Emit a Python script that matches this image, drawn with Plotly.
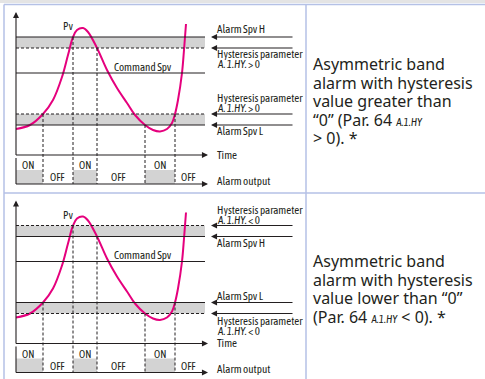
import numpy as np
import plotly.graph_objects as go

# Pv curve (panel coordinates, px)
pv_x = [16, 30, 43, 53, 62, 68, 73, 77, 83, 88, 97, 107, 117, 127, 135, 145, 153, 160, 167, 172, 175, 178, 182, 184, 186]
pv_y = [129, 125, 114, 100, 77, 55, 37, 30, 28, 32, 48, 70, 88, 103, 115, 125, 130, 131.5, 129, 123, 114, 100, 73, 50, 24]

# threshold levels (panel coordinates)
level_upper = [37, 48]      # outer / inner edge of the upper band
level_lower = [114, 125]    # inner / outer edge of the lower band
level_cmd = 73

# switching instants and the level each dashed guide starts from
switch_x = [43, 73, 97, 145, 175]
switch_from = [114, 37, 48, 125, 114]

# alarm output ON intervals
on_start = [16, 73, 145]
on_end = [43, 97, 175]
on_label_x = [28, 85, 160]
off_label_x = [57, 118, 188]

# right hand labels of each diagram: (text, y)
labels_pos = [
    ("Alarm Spv H", 29), ("Hysteresis parameter", 54), ("<i>A. 1.HY.</i> > 0", 64),
    ("Hysteresis parameter", 98), ("<i>A. 1.HY.</i> > 0", 108), ("Alarm Spv L", 131),
    ("Time", 155), ("Alarm output", 181),
]
labels_neg = [
    ("Hysteresis parameter", 21.5), ("<i>A. 1.HY.</i> < 0", 31.5), ("Alarm Spv H", 54.8),
    ("Alarm Spv L", 107.5), ("Hysteresis parameter", 132), ("<i>A. 1.HY.</i> < 0", 142.5),
    ("Time", 154), ("Alarm output", 180),
]

seg = '<span style="font-family:Asap Condensed;font-size:11px"><i>A.1.HY</i></span>'
desc_pos = ["Asymmetric band", "alarm with hysteresis", "value greater than",
            "“0” (Par. 64 " + seg, "> 0). *"]
desc_neg = ["Asymmetric band", "alarm with hysteresis", "value lower than “0”",
            "(Par. 64 " + seg + " < 0). *"]

panels = [
    dict(oy=0, solid=[level_upper[0], level_lower[1]], dashed=[level_upper[1], level_lower[0]],
         labels=labels_pos, desc=desc_pos, desc_y=64),
    dict(oy=188.5, solid=[level_upper[1], level_lower[0]], dashed=[level_upper[0], level_lower[1]],
         labels=labels_neg, desc=desc_neg, desc_y=261 - 188.5),
]

INK = '#231f20'
PINK = '#e5007d'
BAND = '#d3d3d3'
BORDER = '#b5c1e6'
FONT_N = 'Asap Condensed, Archivo Narrow, DejaVu Sans Condensed, sans-serif'

axis_x, axis_end, line_end = 16, 208, 205
time_y, out_y, y_top = 155, 184, 12
on_top = 170

fig = go.Figure()
shapes = []
annotations = []


def hline(y, x0, x1, dash=None, width=1.1):
    shapes.append(dict(type='line', xref='x', yref='y', x0=x0, x1=x1, y0=y, y1=y,
                       line=dict(color=INK, width=width, dash=dash)))


def vline(x, y0, y1, dash=None, width=1.1):
    shapes.append(dict(type='line', xref='x', yref='y', x0=x, x1=x, y0=y0, y1=y1,
                       line=dict(color=INK, width=width, dash=dash)))


def arrow(x, y, ax, ay):
    annotations.append(dict(x=x, y=y, ax=ax, ay=ay, xref='x', yref='y', axref='x', ayref='y',
                            text='', showarrow=True, arrowhead=2, arrowsize=1.1,
                            arrowwidth=1.1, arrowcolor=INK))


def label(x, y, text, size=11, anchor='left', family=FONT_N):
    annotations.append(dict(x=x, y=y, xref='x', yref='y', text=text, showarrow=False,
                            xanchor=anchor, yanchor='middle', borderpad=0,
                            font=dict(family=family, size=size, color=INK)))


for p in panels:
    oy = p['oy']
    # gray hysteresis bands
    for lv in (level_upper, level_lower):
        shapes.append(dict(type='rect', xref='x', yref='y', x0=axis_x, x1=line_end,
                           y0=lv[0] + oy, y1=lv[1] + oy, fillcolor=BAND, line_width=0, layer='below'))
    # ON boxes
    for s, e in zip(on_start, on_end):
        shapes.append(dict(type='rect', xref='x', yref='y', x0=s, x1=e,
                           y0=on_top + oy, y1=out_y + oy, fillcolor=BAND, line_width=0, layer='below'))
    for lv in p['solid']:
        hline(lv + oy, axis_x, line_end)
    for lv in p['dashed']:
        hline(lv + oy, axis_x, line_end, dash='3px,2px')
    hline(level_cmd + oy, axis_x, line_end)
    for sx, sy in zip(switch_x, switch_from):
        vline(sx, sy + oy, out_y + oy, dash='3px,2px', width=1)
    # axes
    vline(axis_x, time_y + oy, y_top + 4 + oy)
    arrow(axis_x, y_top + oy, axis_x, y_top + 6 + oy)
    hline(time_y + oy, axis_x, axis_end - 4)
    arrow(axis_end, time_y + oy, axis_end - 6, time_y + oy)
    vline(axis_x, 158 + oy, out_y + oy)
    hline(out_y + oy, axis_x, axis_end - 4)
    arrow(axis_end, out_y + oy, axis_end - 6, out_y + oy)
    # level arrows from the right
    for lv in level_upper + level_lower:
        arrow(211, lv + oy, 294, lv + oy)
    # Pv curve
    fig.add_trace(go.Scatter(x=pv_x, y=np.array(pv_y) + oy, mode='lines',
                             line=dict(color=PINK, width=2, shape='spline', smoothing=1.0),
                             hoverinfo='skip', showlegend=False))
    label(68, 26 + oy, 'Pv', anchor='center')
    label(143, 66.5 + oy, 'Command Spv', anchor='center')
    for t, y in p['labels']:
        label(216, y + oy, t)
    for x in on_label_x:
        label(x, 165 + oy, 'ON', size=10.5, anchor='center')
    for x in off_label_x:
        label(x, 177 + oy, 'OFF', size=10.5, anchor='center')
    for i, t in enumerate(p['desc']):
        label(312, p['desc_y'] + i * 18.6 + oy, t, size=16, family='Noto Sans, sans-serif')

# table frame
shapes.append(dict(type='rect', xref='x', yref='y', x0=0, x1=485, y0=0, y1=3,
                   fillcolor='#e4e4e4', line_width=0))
for y in (4.5, 193):
    shapes.append(dict(type='line', xref='x', yref='y', x0=4, x1=485, y0=y, y1=y,
                       line=dict(color=BORDER, width=1.5)))
for x in (4, 306):
    shapes.append(dict(type='line', xref='x', yref='y', x0=x, x1=x, y0=4.5, y1=379,
                       line=dict(color=BORDER, width=1.5)))

fig.update_layout(
    width=485, height=379,
    margin=dict(l=0, r=0, t=0, b=0),
    paper_bgcolor='white', plot_bgcolor='white',
    xaxis=dict(range=[0, 485], visible=False, fixedrange=True),
    yaxis=dict(range=[379, 0], visible=False, fixedrange=True),
    shapes=shapes, annotations=annotations,
    showlegend=False,
)

fig.write_html("out.html", config={'displayModeBar': False},
               post_script="document.body.style.margin='0';document.body.style.overflow='hidden';")
